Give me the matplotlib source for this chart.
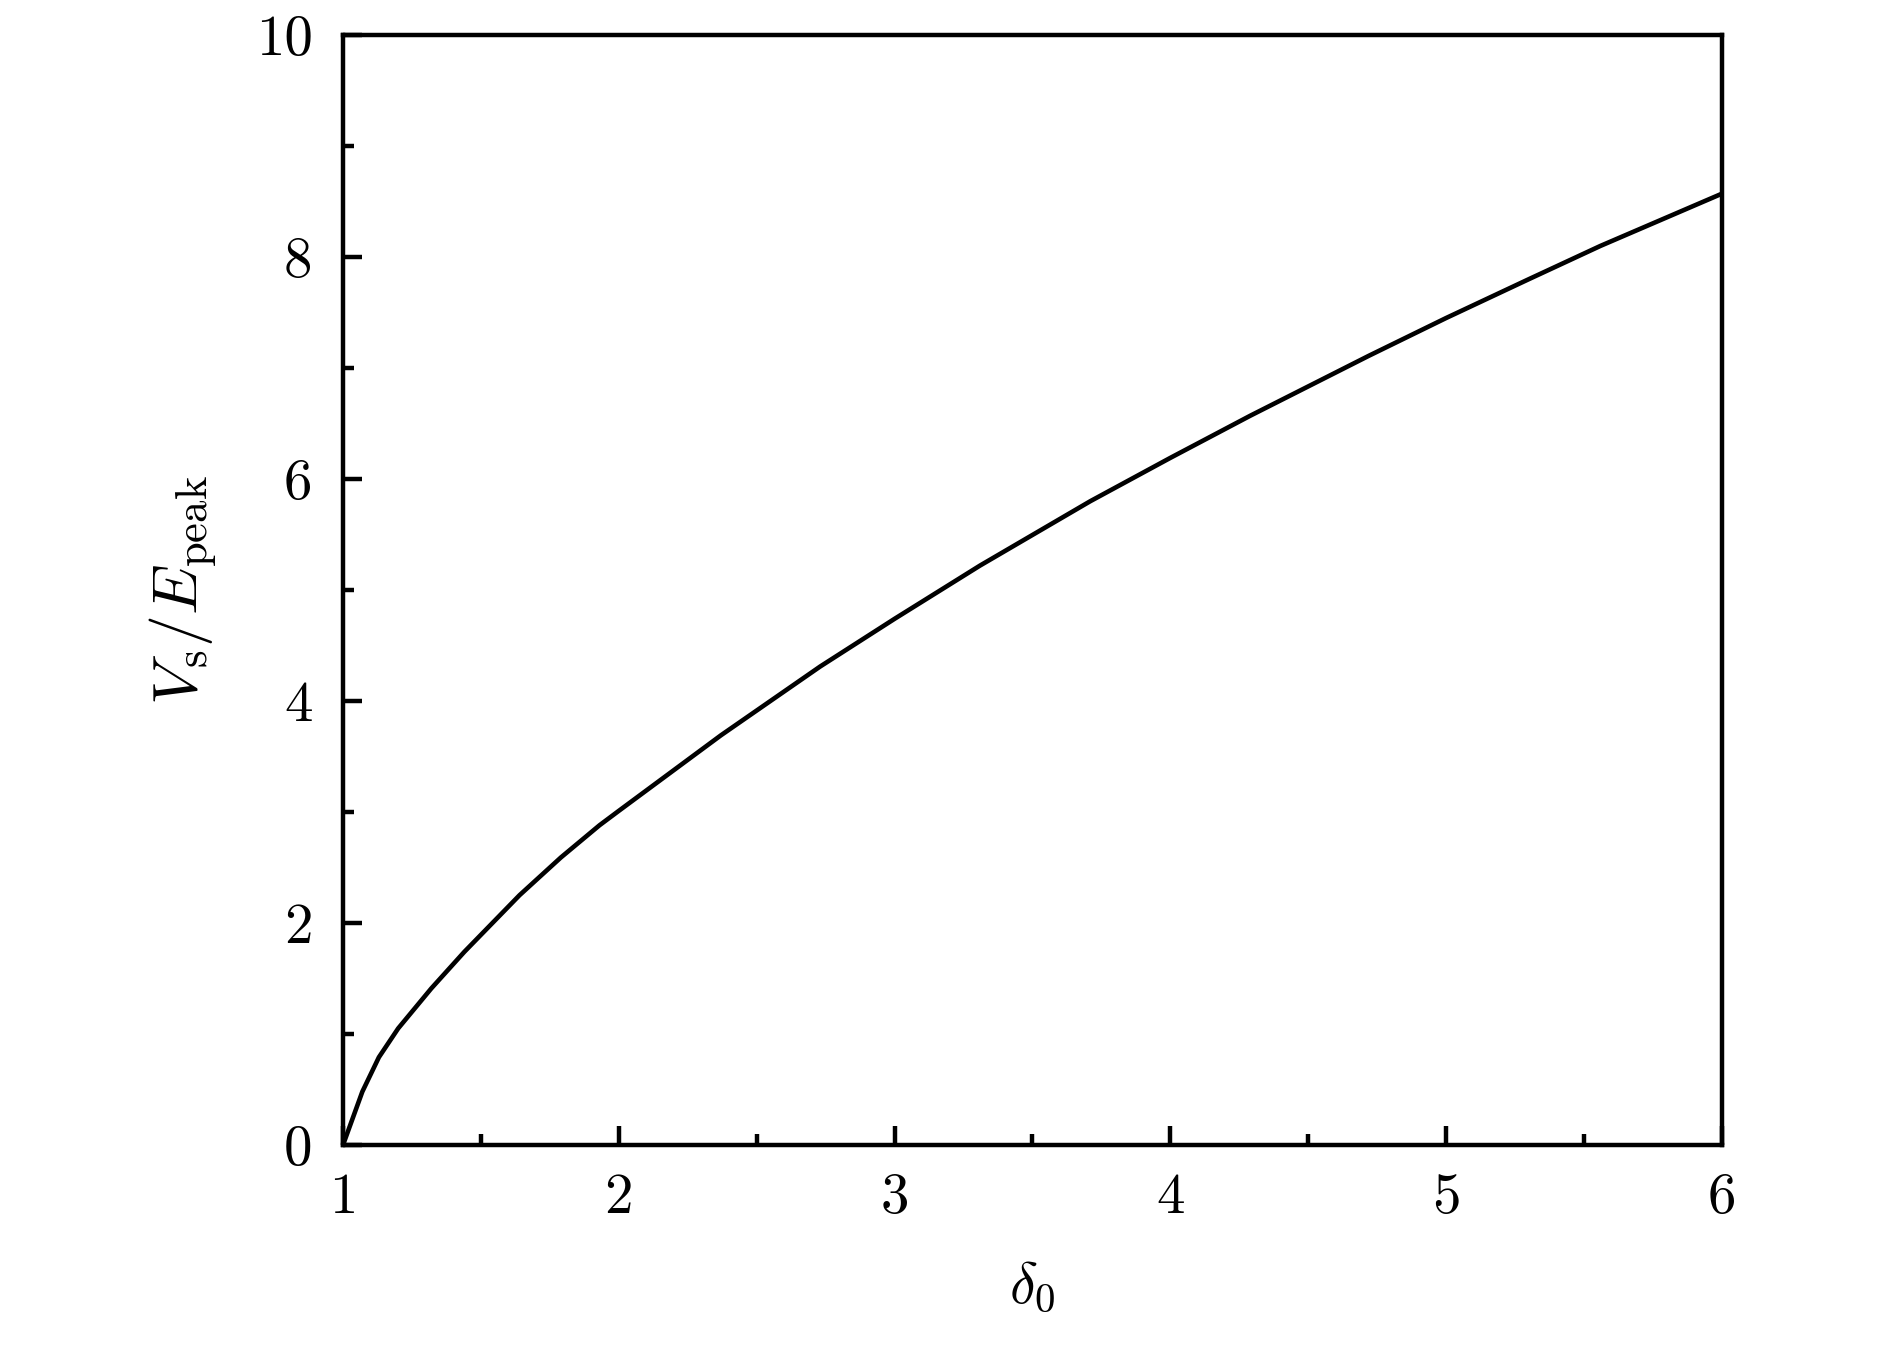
import matplotlib
matplotlib.use("Agg")
import matplotlib.pyplot as plt
from matplotlib.ticker import MultipleLocator

# values
delta0 = [1.0, 1.07, 1.13, 1.2, 1.32, 1.44, 1.64, 1.79, 1.93, 2.0, 2.37,
          2.73, 3.0, 3.31, 3.71, 4.0, 4.29, 4.72, 5.0, 5.3, 5.56, 6.0]
vs_epeak = [0.0, 0.48, 0.79, 1.05, 1.41, 1.74, 2.25, 2.59, 2.88, 3.01, 3.69,
            4.31, 4.74, 5.22, 5.80, 6.19, 6.57, 7.11, 7.45, 7.80, 8.10, 8.57]

x_ticks = [1, 2, 3, 4, 5, 6]
y_ticks = [0, 2, 4, 6, 8, 10]

plt.rcParams['font.family'] = 'serif'
plt.rcParams['font.serif'] = ['cmr10', 'DejaVu Serif']
plt.rcParams['mathtext.fontset'] = 'cm'
plt.rcParams['axes.formatter.use_mathtext'] = True

fig = plt.figure(figsize=(18.9, 13.47), dpi=100)
ax = fig.add_axes([0.1815, 0.150, 0.7295, 0.824])

ax.plot(delta0, vs_epeak, color='black', lw=3.3, solid_joinstyle='round')

ax.set_xlim(1, 6)
ax.set_ylim(0, 10)
ax.set_xticks(x_ticks)
ax.set_yticks(y_ticks)
ax.set_xticklabels([str(t) for t in x_ticks])
ax.set_yticklabels([str(t) for t in y_ticks])
ax.xaxis.set_minor_locator(MultipleLocator(0.5))
ax.yaxis.set_minor_locator(MultipleLocator(1))

for s in ax.spines.values():
    s.set_linewidth(3.2)

ax.tick_params(which='both', direction='in', top=False, right=False,
               width=3.2, labelsize=41)
ax.tick_params(axis='x', pad=20)
ax.tick_params(axis='y', pad=22)
ax.tick_params(which='major', length=14)
ax.tick_params(which='minor', length=8)

ax.set_xlabel(r'$\delta_0$', fontsize=42, labelpad=26)
ax.set_ylabel(r'$V_{\rm s}/E_{\rm peak}$', fontsize=46, labelpad=26)

fig.savefig('out.png', dpi=100)
